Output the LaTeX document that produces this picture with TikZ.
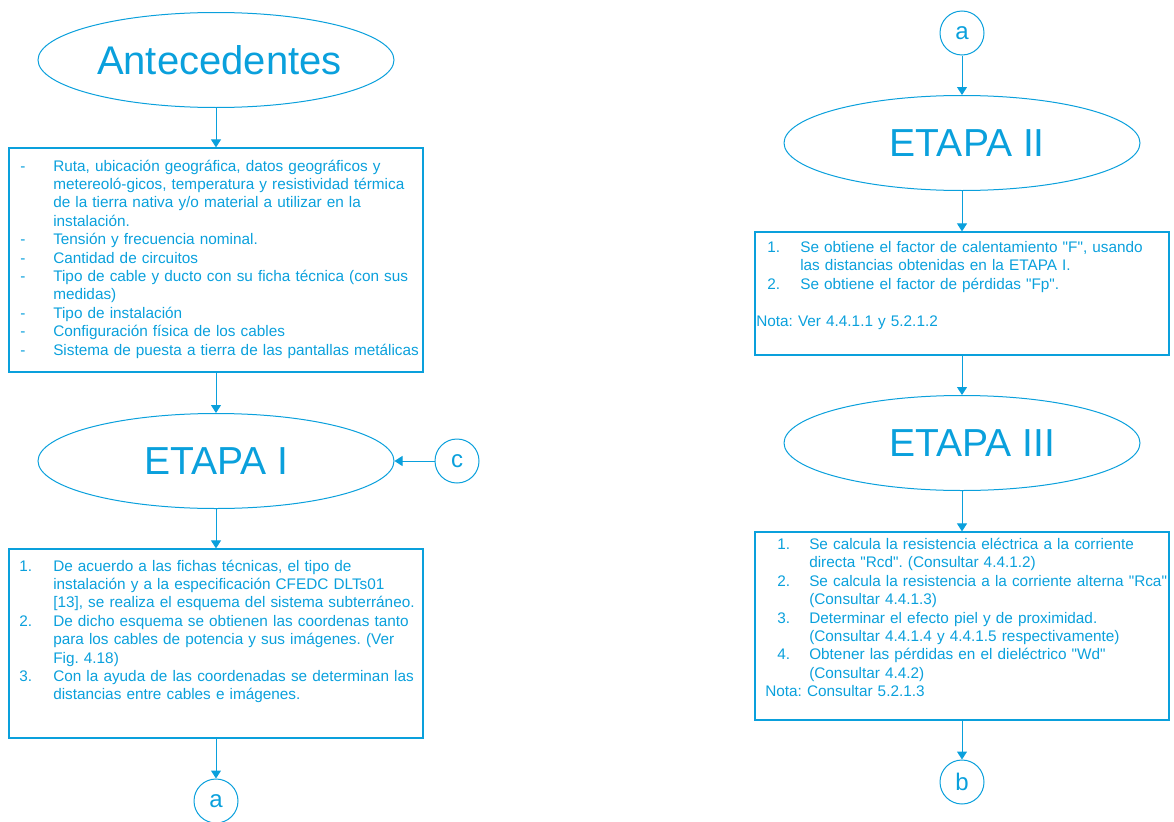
\documentclass[tikz,border=0pt]{standalone}
\usepackage{fontspec}
\setmainfont{Liberation Sans}[Ligatures=TeXOff]
\usepackage{xcolor}
\usepackage{tikz}
\usetikzlibrary{shapes.geometric,arrows.meta,positioning}
\definecolor{FlowBlue}{HTML}{0AA0DC}
\newlength\lblskip
\newlength\txtskip
\newcommand{\stepitem}[2]{\hangindent=\txtskip\hangafter=1\makebox[\txtskip][l]{\hspace*{\lblskip}#1}#2}
\tikzset{
  stage/.style={ellipse,draw=FlowBlue,line width=0.75pt,text=FlowBlue,minimum width=267pt,minimum height=71.25pt,inner sep=0pt,font=\fontsize{29.3}{34}\selectfont},
  infobox/.style={rectangle,draw=FlowBlue,line width=0.9pt,minimum width=310.5pt,inner sep=0pt},
  infotext/.style={anchor=base west,inner sep=0pt,text=FlowBlue,text width=330pt,align=left,font=\fontsize{11.5}{13.8}\selectfont\frenchspacing},
  linkmark/.style={circle,draw=FlowBlue,line width=0.75pt,text=FlowBlue,minimum size=33pt,inner sep=0pt,font=\fontsize{18}{20}\selectfont},
  flowarrow/.style={draw=FlowBlue,line width=0.75pt,-{Triangle[length=6pt,width=7.5pt]}}
}
\begin{document}
\begin{tikzpicture}[x=0.75pt,y=-0.75pt]
  \useasboundingbox (0,0) rectangle (1174,821);
  % left column
  \node[stage,font=\fontsize{30}{36}\selectfont] (ante) at (216,60) {\hspace*{5pt}Antecedentes};
  \node[infobox,minimum height=168pt] (datos) at (216,260) {};
  \node[infotext] (datostxt) at (10,171) {\setlength\lblskip{7.5pt}\setlength\txtskip{32.25pt}%
    \stepitem{-}{Ruta, ubicación geográfica, datos geográficos y\newline metereoló-gicos, temperatura y resistividad térmica\newline de la tierra nativa y/o material a utilizar en la\newline instalación.}\par
    \stepitem{-}{Tensión y frecuencia nominal.}\par
    \stepitem{-}{Cantidad de circuitos}\par
    \stepitem{-}{Tipo de cable y ducto con su ficha técnica (con sus\newline medidas)}\par
    \stepitem{-}{Tipo de instalación}\par
    \stepitem{-}{Configuración física de los cables}\par
    \stepitem{-}{Sistema de puesta a tierra de las pantallas metálicas}\par};
  \node[stage] (etapaI) at (216,461) {ETAPA I};
  \node[linkmark] (linkc) at (457,461) {c};
  \node[infobox,minimum height=141.75pt] (esquema) at (216,643.5) {};
  \node[infotext] (esquematxt) at (10,571) {\setlength\lblskip{6.75pt}\setlength\txtskip{32.25pt}%
    \stepitem{1.}{De acuerdo a las fichas técnicas, el tipo de\newline instalación y a la especificación CFEDC DLTs01\newline [13], se realiza el esquema del sistema subterráneo.}\par
    \stepitem{2.}{De dicho esquema se obtienen las coordenas tanto\newline para los cables de potencia y sus imágenes. (Ver\newline Fig. 4.18)}\par
    \stepitem{3.}{Con la ayuda de las coordenadas se determinan las\newline distancias entre cables e imágenes.}\par};
  \node[linkmark] (linkaout) at (216,801) {a};

  % right column
  \node[linkmark] (linkain) at (962,33) {a};
  \node[stage] (etapaII) at (962,143) {\hspace*{8pt}ETAPA II};
  \node[infobox,minimum height=92.25pt] (factor) at (962,293.5) {};
  \node[infotext] (factortxt) at (756,252.5) {\setlength\lblskip{8.25pt}\setlength\txtskip{33pt}%
    \stepitem{1.}{Se obtiene el factor de calentamiento "F", usando\newline las distancias obtenidas en la ETAPA I.}\par
    \stepitem{2.}{Se obtiene el factor de pérdidas "Fp".}\par
    \vspace{13.8pt}\noindent Nota: Ver 4.4.1.1 y 5.2.1.2\par};
  \node[stage] (etapaIII) at (962,443) {\hspace*{15pt}ETAPA III};
  \node[infobox,minimum height=141pt] (perdidas) at (962,626) {};
  \node[infotext] (perdidastxt) at (756,549.5) {\setlength\lblskip{15.75pt}\setlength\txtskip{39.75pt}%
    \stepitem{1.}{Se calcula la resistencia eléctrica a la corriente\newline directa "Rcd". (Consultar 4.4.1.2)}\par
    \stepitem{2.}{Se calcula la resistencia a la corriente alterna "Rca".\newline (Consultar 4.4.1.3)}\par
    \stepitem{3.}{Determinar el efecto piel y de proximidad.\newline (Consultar 4.4.1.4 y 4.4.1.5 respectivamente)}\par
    \stepitem{4.}{Obtener las pérdidas en el dieléctrico "Wd"\newline (Consultar 4.4.2)}\par
    \noindent\hspace*{6.75pt}Nota: Consultar 5.2.1.3\par};
  \node[linkmark] (linkb) at (962,782) {b};

  % connectors
  \draw[flowarrow] (ante) -- (datos);
  \draw[flowarrow] (datos) -- (etapaI);
  \draw[flowarrow] (linkc) -- (etapaI);
  \draw[flowarrow] (etapaI) -- (esquema);
  \draw[flowarrow] (esquema) -- (linkaout);
  \draw[flowarrow] (linkain) -- (etapaII);
  \draw[flowarrow] (etapaII) -- (factor);
  \draw[flowarrow] (factor) -- (etapaIII);
  \draw[flowarrow] (etapaIII) -- (perdidas);
  \draw[flowarrow] (perdidas) -- (linkb);
\end{tikzpicture}
\end{document}
